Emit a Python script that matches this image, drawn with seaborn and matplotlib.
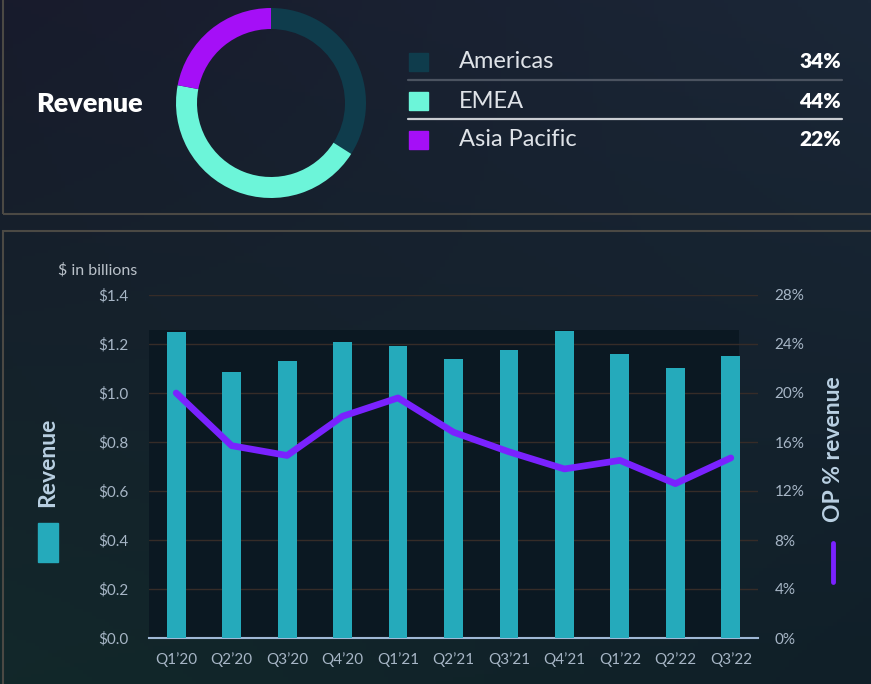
import numpy as np
import matplotlib
matplotlib.use("Agg")
import matplotlib.pyplot as plt
from matplotlib.patches import Rectangle
from matplotlib.lines import Line2D
import seaborn as sns

regions = ['Americas', 'EMEA', 'Asia Pacific']
shares = [34, 44, 22]
region_colors = ['#0f3c4c', '#6cf5d9', '#a50ff7']

quarters = ["Q1’20", "Q2’20", "Q3’20", "Q4’20", "Q1’21", "Q2’21",
            "Q3’21", "Q4’21", "Q1’22", "Q2’22", "Q3’22"]
revenue = [1.25, 1.085, 1.13, 1.21, 1.19, 1.14, 1.175, 1.255, 1.16, 1.10, 1.15]
op_pct = [20.0, 15.7, 14.9, 18.1, 19.6, 16.8, 15.2, 13.8, 14.5, 12.6, 14.7]

rev_ticks = [0.0, 0.2, 0.4, 0.6, 0.8, 1.0, 1.2, 1.4]
pct_ticks = [0, 4, 8, 12, 16, 20, 24, 28]

BAR = '#25aabb'
LINE = '#7a22ff'
TICK = '#a7b6c6'

sns.set_theme(style='dark')
plt.rcParams['font.family'] = ['Lato', 'DejaVu Sans']

W, H = 871, 684
fig = plt.figure(figsize=(W / 100, H / 100), dpi=100)


def fx(px):
    return px / W


def fy(py):
    return 1 - py / H


# background gradient
bg = fig.add_axes([0, 0, 1, 1], zorder=-10)
corners = np.array([[[0x18, 0x1b, 0x2c], [0x1b, 0x27, 0x37]],
                    [[0x12, 0x28, 0x2a], [0x10, 0x1f, 0x28]]]) / 255
t = np.linspace(0, 1, 200)[:, None, None]
s = np.linspace(0, 1, 200)[None, :, None]
grad = ((1 - t) * ((1 - s) * corners[0, 0] + s * corners[0, 1])
        + t * ((1 - s) * corners[1, 0] + s * corners[1, 1]))
bg.imshow(grad, aspect='auto', extent=[0, 1, 0, 1])
bg.set_axis_off()

# panel frames
for y0, y1 in [(-10, 214), (231, 700)]:
    fig.patches.append(Rectangle((fx(3), fy(y1)), fx(880), fy(y0) - fy(y1),
                                 transform=fig.transFigure, fill=False,
                                 edgecolor='#4b4944', lw=1.5))

# donut
dax = fig.add_axes([fx(171), fy(203), fx(200), 200 / H])
dax.pie(shares, colors=region_colors, startangle=90, counterclock=False,
        radius=0.95, wedgeprops=dict(width=0.21, edgecolor='none'))
dax.set_xlim(-1, 1)
dax.set_ylim(-1, 1)
dax.set_aspect('equal')
dax.set_facecolor('none')

fig.text(fx(36), fy(104), 'Revenue', color='white', fontsize=19.5,
         fontweight='heavy', va='center', ha='left')

row_y = [62, 101, 140]
for name, val, col, yy in zip(regions, shares, region_colors, row_y):
    fig.patches.append(Rectangle((fx(409), fy(yy + 9)), fx(19), 18 / H,
                                 transform=fig.transFigure, color=col))
    fig.text(fx(459), fy(yy), name, color='#dfe3e8', fontsize=17,
             va='center', ha='left')
    fig.text(fx(841), fy(yy), f'{val}%', color='white', fontsize=15,
             fontweight='heavy', va='center', ha='right')
fig.lines.append(Line2D([fx(408), fx(842)], [fy(80), fy(80)],
                        transform=fig.transFigure, color='#4b5360', lw=1.6))
fig.lines.append(Line2D([fx(408), fx(842)], [fy(119), fy(119)],
                        transform=fig.transFigure, color='#c9cdd2', lw=1.6))

# bar + line chart
ax = fig.add_axes([fx(149), fy(638), fx(609), 343 / H])
ax.set_facecolor('none')
ax.axhspan(0, 1.257, xmin=0, xmax=0.968, color='#0b1822', zorder=0, lw=0)
sns.barplot(x=quarters, y=revenue, color=BAR, width=0.34, saturation=1,
            linewidth=0, edgecolor='none', ax=ax, zorder=3)
ax.set_xlim(-0.49, 10.49)
ax.set_ylim(0, 1.4)
ax.set_yticks(rev_ticks)
ax.set_yticklabels([f'${v:.1f}' for v in rev_ticks])
for v in rev_ticks[1:]:
    ax.axhline(v, color='#362c28', lw=1, zorder=1)
ax.grid(False)
for sp in ['top', 'right', 'left']:
    ax.spines[sp].set_visible(False)
ax.spines['bottom'].set_color('#9fb8d6')
ax.spines['bottom'].set_linewidth(1.5)
ax.tick_params(axis='y', colors=TICK, labelsize=11, pad=14.5, length=0)
ax.tick_params(axis='x', colors=TICK, labelsize=11, pad=10, length=0)
ax.set_xlabel('')
ax.set_ylabel('')

ax2 = ax.twinx()
sns.lineplot(x=np.arange(len(quarters)), y=op_pct, color=LINE, lw=4.8,
             ax=ax2, solid_capstyle='round', solid_joinstyle='round')
ax2.set_xlim(-0.49, 10.49)
ax2.set_ylim(0, 28)
ax2.set_yticks(pct_ticks)
ax2.set_yticklabels([f'{v}%' for v in pct_ticks])
ax2.tick_params(axis='y', colors=TICK, labelsize=11, pad=12, length=0)
ax2.grid(False)
ax2.set_ylabel('')
for sp in ax2.spines.values():
    sp.set_visible(False)

fig.text(fx(58), fy(270), '$ in billions', color='#b9c1c9', fontsize=11.5,
         va='center', ha='left')

# side legends
fig.text(fx(48), fy(462), 'Revenue', color='#b9d0e2', fontsize=16.5,
         fontweight='bold', rotation=90, va='center', ha='center')
fig.patches.append(Rectangle((fx(38), fy(562)), fx(20), 39 / H,
                             transform=fig.transFigure, color=BAR))
fig.text(fx(833), fy(449), 'OP % revenue', color='#b9d0e2', fontsize=16.5,
         fontweight='bold', rotation=90, va='center', ha='center')
fig.lines.append(Line2D([fx(833), fx(833)], [fy(543), fy(582)],
                        transform=fig.transFigure, color=LINE, lw=3.5))

fig.savefig('out.png', dpi=100)
